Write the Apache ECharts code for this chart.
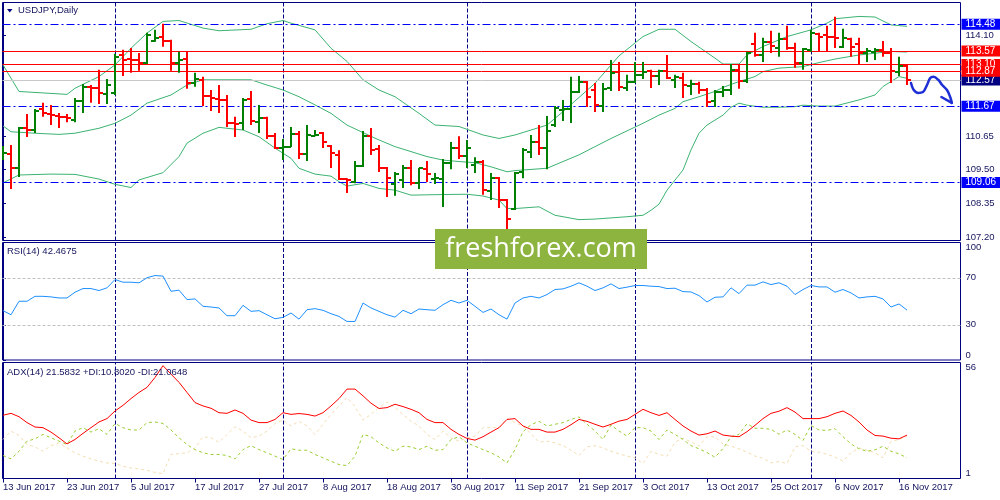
<!DOCTYPE html>
<html>
<head>
<meta charset="utf-8">
<script src="https://cdn.jsdelivr.net/npm/echarts@6.0.0/dist/echarts.min.js"></script>
<style>html,body{margin:0;padding:0;background:#fff}#c{width:1000px;height:500px}</style>
</head>
<body>
<div id="c"></div>
<script>
// ---------------- DATA ----------------
const symbolTitle = 'USDJPY,Daily';
const tickIdx = [0,8,16,24,32,40,48,56,64,72,80,88,96,104,112];
const tickLabels = ['13 Jun 2017','23 Jun 2017','5 Jul 2017','17 Jul 2017','27 Jul 2017','8 Aug 2017','18 Aug 2017','30 Aug 2017','11 Sep 2017','21 Sep 2017','3 Oct 2017','13 Oct 2017','25 Oct 2017','6 Nov 2017','16 Nov 2017'];
const monthStarts = [14,35,58,79,101];

const opens = [109.97,110.04,109.56,110.93,110.86,111.58,111.41,111.34,111.31,111.20,
 111.86,112.34,112.30,112.10,112.13,113.43,113.30,113.26,113.16,113.91,
 114.05,113.91,113.16,113.30,112.47,112.58,112.03,111.92,111.89,111.10,
 111.10,111.92,111.13,111.27,110.65,110.24,110.28,110.72,110.04,110.66,
 110.76,110.31,110.00,109.18,109.08,109.62,110.65,110.21,109.56,109.01,
 109.15,109.56,109.04,109.52,109.18,109.18,109.73,110.24,109.97,109.66,
 109.76,108.77,109.21,108.46,108.15,109.42,110.11,110.45,110.24,111.03,
 111.55,111.58,112.16,112.51,112.23,111.68,112.30,112.85,112.30,112.51,
 112.75,112.89,112.71,112.89,112.58,112.64,112.37,112.44,112.23,111.86,
 112.16,112.23,112.92,112.54,113.81,113.43,113.88,113.67,113.98,113.67,
 113.16,113.61,114.15,114.12,114.05,113.71,113.98,113.81,113.50,113.54,
 113.61,113.50,112.85,113.06];
const highs = [110.31,110.35,110.96,111.41,111.58,111.79,111.72,111.44,111.41,111.96,
 112.44,112.40,112.92,112.61,113.47,113.61,113.67,113.50,114.19,114.29,
 114.50,113.95,113.54,113.54,112.82,112.68,112.23,112.40,112.06,111.31,
 111.96,112.20,111.72,111.31,110.76,110.55,110.96,110.83,111.03,110.86,
 110.79,110.35,110.17,109.21,109.80,110.83,110.93,110.35,109.59,109.42,
 109.66,109.83,109.56,109.80,109.39,109.87,110.45,110.65,110.52,109.93,
 109.83,109.39,109.25,108.50,109.42,110.24,110.69,111.03,111.34,111.68,
 111.89,112.68,112.71,112.54,112.47,112.47,113.26,113.19,112.75,113.19,
 113.19,112.92,112.92,113.43,112.75,112.82,112.58,112.51,112.30,112.23,
 112.37,113.12,113.12,113.54,114.19,114.02,114.26,114.19,114.43,113.85,
 113.67,114.29,114.19,114.43,114.74,114.33,114.02,114.02,113.67,113.67,
 113.91,113.67,113.37,113.12];
const lows = [109.83,108.84,109.25,110.62,110.76,111.31,111.03,110.93,111.13,111.13,
 111.44,111.79,111.75,111.75,112.06,112.71,112.82,112.89,113.12,113.88,
 113.71,112.89,112.82,112.27,112.34,111.68,111.51,111.44,110.96,110.62,
 110.86,111.03,110.76,110.55,110.21,109.83,110.28,109.87,109.80,110.65,
 110.24,109.56,109.15,108.70,109.04,109.59,110.00,109.42,108.57,108.61,
 108.87,108.97,108.84,109.08,109.01,108.22,109.52,109.87,109.56,109.39,
 108.64,108.46,108.19,107.43,108.12,109.21,109.90,110.00,109.52,110.96,
 111.17,111.10,112.13,111.65,111.48,111.48,112.20,112.20,112.20,112.47,
 112.61,112.30,112.40,112.61,112.30,111.96,112.06,112.10,111.65,111.65,
 111.99,112.06,112.27,112.47,113.37,113.19,113.50,113.37,113.61,112.99,
 112.92,113.54,113.54,113.54,113.67,113.67,113.37,113.12,113.19,113.26,
 113.37,112.47,112.71,112.40];
const closes = [110.07,109.56,110.93,110.86,111.51,111.44,111.38,111.31,111.27,111.86,
 112.34,112.30,112.13,112.40,113.37,113.26,113.26,113.16,114.12,114.02,
 113.91,113.16,113.26,112.47,112.61,112.03,111.96,111.89,111.10,111.07,
 111.89,111.17,111.27,110.65,110.24,110.28,110.72,110.04,110.69,110.69,
 110.45,110.07,109.18,109.15,109.62,110.65,110.17,109.56,109.21,109.35,
 109.56,109.04,109.56,109.35,109.21,109.73,110.24,109.97,110.24,109.76,
 108.80,109.21,108.46,107.81,109.39,110.17,110.45,110.24,110.83,111.62,
 111.58,112.16,112.51,111.99,111.72,112.27,112.82,112.34,112.51,112.75,
 112.85,112.71,112.89,112.64,112.68,112.40,112.44,112.23,111.82,112.16,
 112.23,112.92,112.54,113.50,113.43,113.88,113.74,113.98,113.67,113.16,
 113.64,114.19,114.05,114.05,114.02,114.02,113.71,113.50,113.57,113.61,
 113.50,112.89,113.06,112.57];

// Bollinger bands: [bar index, price] readings
const bbUpper = [[0,113.09],[2,112.18],[8,112.08],[9,112.29],[12,112.69],[14,113.09],[16,113.66],[18,114.18],[20,114.58],[22,114.61],[25,114.35],[27,114.26],[31,114.31],[33,114.50],[35,114.61],[36,114.52],[39,114.29],[41,113.66],[43,113.21],[45,112.58],[47,112.23],[49,112.00],[52,111.43],[54,111.03],[57,110.98],[60,110.69],[62,110.57],[64,110.69],[68,111.03],[70,111.49],[74,112.46],[77,113.40],[80,114.06],[82,114.31],[84,114.31],[86,113.89],[89,113.32],[90,113.12],[92,113.12],[93,113.43],[95,113.72],[98,114.06],[101,114.29],[103,114.52],[104,114.67],[107,114.75],[109,114.73],[111,114.46],[113,114.41]];
const bbMiddle = [[0,111.00],[1,110.80],[4,110.75],[7,110.71],[9,110.75],[12,110.92],[14,111.09],[16,111.37],[18,111.78],[21,112.06],[23,112.40],[25,112.58],[29,112.58],[31,112.58],[33,112.40],[35,112.23],[37,112.00],[39,111.72],[41,111.43],[43,111.03],[45,110.77],[47,110.52],[49,110.29],[51,110.12],[53,109.95],[55,109.83],[57,109.78],[59,109.74],[61,109.60],[63,109.43],[64,109.47],[68,109.55],[70,109.78],[72,110.01],[74,110.29],[76,110.57],[78,110.83],[80,111.09],[82,111.37],[84,111.60],[85,111.83],[87,112.00],[89,112.18],[90,112.32],[92,112.52],[94,112.69],[95,112.86],[97,112.98],[100,113.03],[102,113.17],[104,113.29],[107,113.43],[111,113.55],[113,113.53]];
const bbLower = [[0,109.05],[2,109.32],[6,109.35],[9,109.34],[12,109.18],[14,109.00],[16,108.89],[17,109.15],[20,109.40],[22,109.95],[23,110.41],[25,110.75],[27,110.95],[28,110.92],[30,110.86],[32,110.63],[34,110.24],[36,109.89],[37,109.55],[39,109.35],[41,109.28],[42,109.09],[43,108.94],[45,109.03],[47,108.86],[49,108.80],[51,108.63],[55,108.65],[58,108.66],[60,108.60],[62,108.46],[63,108.17],[64,108.17],[67,108.23],[69,107.94],[72,107.79],[74,107.81],[78,107.89],[80,107.94],[81,108.11],[82,108.32],[83,108.80],[85,109.49],[86,110.18],[87,110.75],[88,111.03],[90,111.37],[91,111.64],[92,111.78],[93,111.71],[95,111.64],[97,111.64],[99,111.66],[100,111.71],[102,111.68],[104,111.68],[105,111.75],[107,111.89],[109,112.06],[110,112.35],[112,112.69],[113,112.63]];

const blueLevels = [114.48, 111.67, 109.06];
const redLevels = [113.57, 113.10, 112.87];
const bidPrice = 112.57;
const priceTicks = [107.20, 108.35, 109.50, 110.65, 114.10];

// hand-drawn forecast arrow, [bar index, price]
const arrowPath = [[113.5,112.47],[113.8,112.25],[114.4,112.13],[115,112.16],[115.5,112.40],[115.9,112.64],[116.3,112.68],[116.9,112.58],[117.4,112.40],[118,112.23],[118.4,111.99],[118.6,111.79]];
const arrowHead = [[117.3,111.99],[118.6,111.79]];

const rsiTitle = 'RSI(14) 42.4675';
const rsi = [42.0,38.5,50.0,50.0,54.2,54.2,53.7,52.8,52.8,57.7,
 60.8,60.8,59.1,61.4,68.5,66.2,66.2,65.7,70.0,71.9,
 71.4,58.5,59.4,51.4,52.0,45.7,45.1,44.3,37.7,37.7,
 46.5,41.4,42.0,38.5,35.1,36.3,40.0,34.8,42.8,43.7,
 42.3,39.4,37.1,32.8,32.8,48.5,44.3,41.4,38.5,36.5,
 42.3,39.4,43.4,42.8,42.3,47.1,50.8,48.5,50.8,45.7,
 40.5,43.4,38.5,34.8,48.5,52.8,54.2,52.8,55.7,60.0,
 60.5,62.8,65.7,62.8,59.1,61.4,64.8,60.8,62.0,63.4,
 63.4,62.8,62.5,60.8,61.1,58.2,57.9,54.8,49.4,53.4,
 53.7,61.4,56.5,63.7,63.7,66.5,64.2,65.7,62.8,55.7,
 60.0,63.4,62.2,62.2,57.7,60.0,57.1,52.8,53.7,54.2,
 52.0,45.1,47.7,42.47];
const rsiLevels = [30, 70];
const rsiTicks = [0, 30, 70, 100];

const adxTitle = 'ADX(14) 21.5832 +DI:10.8020 -DI:21.0648';
const adx = [31.0,31.9,30.3,27.5,25.4,25.1,23.0,20.3,17.4,19.5,
 22.4,25.1,27.8,29.4,33.0,35.7,38.9,41.8,44.2,48.9,
 54.5,50.5,46.6,41.8,37.0,35.4,34.3,32.2,31.9,33.5,
 31.9,28.7,27.5,27.5,29.0,32.2,31.4,31.8,31.4,30.6,
 32.2,35.4,38.9,43.4,43.4,40.2,36.7,34.2,34.6,36.2,
 35.1,33.8,32.2,29.0,27.5,27.5,24.3,21.9,20.0,19.2,
 20.8,23.0,25.1,29.0,29.4,25.9,24.3,24.3,23.0,23.0,
 24.3,26.5,29.0,28.1,26.7,25.4,26.7,28.2,29.0,31.4,
 33.8,32.2,30.9,32.2,29.0,25.9,23.5,21.6,22.2,23.5,
 21.6,21.1,20.8,23.2,26.2,29.4,31.9,32.9,34.6,32.5,
 29.4,29.4,29.4,30.3,31.9,33.0,30.9,27.8,24.0,21.4,
 21.1,20.1,19.8,21.58];
const plusDI = [11.9,10.3,13.9,18.7,19.8,21.9,20.3,18.7,17.1,23.5,
 25.1,23.0,24.6,21.9,27.1,25.1,24.0,24.0,27.5,27.8,
 27.1,24.0,20.3,17.1,14.7,13.2,12.4,12.4,11.9,10.3,
 14.7,16.6,14.7,13.2,11.6,10.0,15.1,14.4,14.4,12.4,
 10.8,9.2,7.6,7.1,11.6,21.9,20.8,17.9,15.5,13.9,
 16.3,16.0,14.7,16.3,14.4,14.7,19.5,20.8,17.9,16.3,
 14.7,13.2,11.2,8.4,14.7,23.2,26.5,28.1,25.9,26.7,
 27.5,29.0,30.2,26.7,23.5,19.5,26.3,23.5,21.1,25.1,
 25.1,23.5,19.5,24.0,21.9,19.5,16.6,15.1,13.3,11.1,
 15.2,20.8,21.9,27.0,24.8,24.8,24.3,22.0,24.0,21.9,
 19.0,26.2,24.0,23.8,24.6,20.8,17.4,15.1,13.9,14.6,
 16.3,13.9,12.7,10.80];
const minusDI = [19.5,23.5,21.4,17.1,16.0,13.9,16.6,17.9,15.5,13.2,
 11.6,10.3,9.2,8.4,8.1,6.8,6.0,5.5,4.9,3.9,
 3.3,12.4,12.8,13.2,15.5,20.8,20.3,18.2,21.9,25.5,
 23.5,20.3,21.1,23.5,27.1,28.7,25.9,28.1,25.9,21.9,
 26.7,31.4,35.4,39.4,35.1,28.7,31.4,34.6,37.3,34.6,
 31.4,28.2,25.9,21.9,19.5,23.5,20.3,18.7,20.3,21.1,
 25.1,25.1,25.1,29.4,27.5,25.9,22.2,18.2,18.7,17.9,
 16.6,14.4,11.9,16.0,16.6,15.5,13.9,12.7,11.6,10.8,
 8.1,13.8,12.4,11.6,18.2,20.1,18.4,16.3,20.8,20.8,
 17.3,16.3,15.1,13.5,11.6,10.6,8.4,9.0,8.1,16.0,
 16.6,13.9,13.5,12.5,11.2,9.2,13.2,15.5,14.4,13.2,
 10.8,18.6,19.5,21.06];
const adxTicks = [1, 56];
const watermark = 'freshforex.com';

// ---------------- CHART ----------------
const NAVY = '#000080';
const TXT = '#14145e';
const FONT = 'Liberation Sans, Arial, sans-serif';
const X_MIN = -0.0625, X_MAX = 119.6875;

const bars = opens.map((o, i) => [i, o, highs[i], lows[i], closes[i]]);
const idx = a => a.map((v, i) => [i, v]);

const sepLine = monthStarts.map(m => ({
  xAxis: m, lineStyle: {color: NAVY, type: [4, 2], width: 1}, label: {show: false}
}));

function priceLabel(bg) {
  return {
    show: true, position: 'end', distance: 1,
    formatter: p => Number(p.value).toFixed(2),
    backgroundColor: bg, color: '#fff', fontFamily: FONT, fontSize: 10,
    lineHeight: 11, padding: [0, 6, 0, 4]
  };
}
const hLines = [].concat(
  blueLevels.map(v => ({yAxis: v, lineStyle: {color: '#0000ff', type: [8, 3, 2, 3], width: 1}, label: priceLabel('#0000ff')})),
  [{yAxis: bidPrice, lineStyle: {color: '#c8c8c8', type: 'solid', width: 1}, label: priceLabel('#000080')}],
  redLevels.map(v => ({yAxis: v, lineStyle: {color: '#ff0000', type: 'solid', width: 1}, label: priceLabel('#ff0000')}))
);

const xAxisBase = (g) => ({
  type: 'value', gridIndex: g, min: X_MIN, max: X_MAX,
  axisLine: {show: false}, splitLine: {show: false},
  axisTick: {show: false}, axisLabel: {show: false}
});
const xBottom = xAxisBase(2);
xBottom.axisTick = {show: true, customValues: tickIdx, length: 4, lineStyle: {color: NAVY}};
xBottom.axisLabel = {
  show: true, customValues: tickIdx, align: 'left', margin: 4,
  color: TXT, fontFamily: FONT, fontSize: 9.5,
  formatter: v => tickLabels[tickIdx.indexOf(Math.round(v))] || ''
};

const yLabel = (vals, fmt) => ({
  show: true, customValues: vals, color: TXT, fontFamily: FONT, fontSize: 9.5, margin: 5,
  formatter: fmt, verticalAlignMaxLabel: 'top', verticalAlignMinLabel: 'bottom'
});

const option = {
  animation: false,
  backgroundColor: '#fff',
  grid: [
    {left: 2.5, top: 2.5, width: 958, height: 238, show: true, borderColor: NAVY, borderWidth: 1, backgroundColor: '#fff'},
    {left: 2.5, top: 242.5, width: 958, height: 117.5, show: true, borderColor: NAVY, borderWidth: 1, backgroundColor: '#fff'},
    {left: 2.5, top: 362.5, width: 958, height: 116, show: true, borderColor: NAVY, borderWidth: 1, backgroundColor: '#fff'}
  ],
  xAxis: [xAxisBase(0), xAxisBase(1), xBottom],
  yAxis: [
    {type: 'value', gridIndex: 0, position: 'right', min: 107.076, max: 115.227,
     axisLine: {show: true, lineStyle: {color: NAVY}}, splitLine: {show: false},
     axisTick: {show: true, customValues: priceTicks, length: 3, lineStyle: {color: NAVY}},
     axisLabel: {show: true, customValues: priceTicks, color: TXT, fontFamily: FONT, fontSize: 9.5, margin: 5, formatter: v => v.toFixed(2)}},
    {type: 'value', gridIndex: 1, position: 'right', min: 0, max: 100,
     axisLine: {show: true, lineStyle: {color: NAVY}}, splitLine: {show: false},
     axisTick: {show: true, customValues: rsiTicks, length: 3, lineStyle: {color: NAVY}},
     axisLabel: yLabel(rsiTicks, v => String(Math.round(v)))},
    {type: 'value', gridIndex: 2, position: 'right', min: 1, max: 56,
     axisLine: {show: true, lineStyle: {color: NAVY}}, splitLine: {show: false},
     axisTick: {show: true, customValues: adxTicks, length: 3, lineStyle: {color: NAVY}},
     axisLabel: yLabel(adxTicks, v => String(Math.round(v)))}
  ],
  series: [
    {type: 'line', xAxisIndex: 0, yAxisIndex: 0, data: bbMiddle, symbol: 'none', silent: true,
     lineStyle: {color: '#3cb371', width: 1}, z: 2,
     markLine: {silent: true, symbol: ['none', 'none'], data: sepLine, z: 1}},
    {type: 'line', xAxisIndex: 0, yAxisIndex: 0, data: bbUpper, symbol: 'none', silent: true,
     lineStyle: {color: '#3cb371', width: 1}, z: 2,
     markLine: {silent: true, symbol: ['none', 'none'], data: hLines, z: 3}},
    {type: 'line', xAxisIndex: 0, yAxisIndex: 0, data: bbLower, symbol: 'none', silent: true,
     lineStyle: {color: '#3cb371', width: 1}, z: 2},
    {type: 'custom', xAxisIndex: 0, yAxisIndex: 0, data: bars, z: 4, silent: true, clip: true,
     encode: {x: 0, y: [1, 2, 3, 4]},
     renderItem: function (params, api) {
       const i = api.value(0), o = api.value(1), h = api.value(2), l = api.value(3), c = api.value(4);
       const pH = api.coord([i, h]), pL = api.coord([i, l]), pO = api.coord([i, o]), pC = api.coord([i, c]);
       const col = c >= o ? '#008000' : '#ff0000';
       const x = Math.round(pH[0]);
       const yo = Math.round(pO[1]), yc = Math.round(pC[1]);
       return {type: 'group', children: [
         {type: 'line', shape: {x1: x, y1: pH[1], x2: x, y2: pL[1]}, style: {stroke: col, lineWidth: 2}},
         {type: 'line', shape: {x1: x - 4, y1: yo, x2: x, y2: yo}, style: {stroke: col, lineWidth: 2}},
         {type: 'line', shape: {x1: x, y1: yc, x2: x + 4, y2: yc}, style: {stroke: col, lineWidth: 2}}
       ]};
     }},
    {type: 'line', xAxisIndex: 0, yAxisIndex: 0, data: arrowPath, symbol: 'none', smooth: 0.35, silent: true,
     lineStyle: {color: '#1f2fd6', width: 2.5, cap: 'round', join: 'round'}, z: 6},
    {type: 'line', xAxisIndex: 0, yAxisIndex: 0, data: arrowHead, symbol: 'none', silent: true,
     lineStyle: {color: '#1f2fd6', width: 2.5, cap: 'round'}, z: 6},
    // RSI
    {type: 'line', xAxisIndex: 1, yAxisIndex: 1, data: idx(rsi), symbol: 'none', silent: true,
     lineStyle: {color: '#1e90ff', width: 1}, z: 3,
     markLine: {silent: true, symbol: ['none', 'none'], z: 1,
       data: rsiLevels.map(v => ({yAxis: v, lineStyle: {color: '#c0c0c0', type: [3, 2], width: 1}, label: {show: false}})).concat(sepLine)}},
    // ADX
    {type: 'line', xAxisIndex: 2, yAxisIndex: 2, data: idx(minusDI), symbol: 'none', silent: true,
     lineStyle: {color: '#f5deb3', width: 1, type: [3, 3]}, z: 2},
    {type: 'line', xAxisIndex: 2, yAxisIndex: 2, data: idx(plusDI), symbol: 'none', silent: true,
     lineStyle: {color: '#9acd32', width: 1, type: [3, 3]}, z: 3},
    {type: 'line', xAxisIndex: 2, yAxisIndex: 2, data: idx(adx), symbol: 'none', silent: true,
     lineStyle: {color: '#ff0000', width: 1}, z: 4,
     markLine: {silent: true, symbol: ['none', 'none'], z: 1, data: sepLine}}
  ],
  graphic: [
    {type: 'polygon', shape: {points: [[7, 9], [12.5, 9], [9.75, 12.5]]}, style: {fill: NAVY}, z: 50},
    {type: 'text', left: 18, top: 5, style: {text: symbolTitle, fill: TXT, font: '9.5px ' + FONT}, z: 50},
    {type: 'text', left: 7, top: 246.5, style: {text: rsiTitle, fill: TXT, font: '9.5px ' + FONT}, z: 50},
    {type: 'text', left: 7, top: 367, style: {text: adxTitle, fill: TXT, font: '9.5px ' + FONT}, z: 50},
    {type: 'rect', shape: {x: 435, y: 229, width: 212, height: 40}, style: {fill: '#8db43e'}, z: 100},
    {type: 'text', x: 541, y: 249, style: {text: watermark, fill: '#ffffff', font: '27px "Open Sans", sans-serif', align: 'center', verticalAlign: 'middle'}, z: 101}
  ]
};

const chart = echarts.init(document.getElementById('c'), null, {renderer: 'canvas'});
chart.setOption(option);
</script>
</body>
</html>
